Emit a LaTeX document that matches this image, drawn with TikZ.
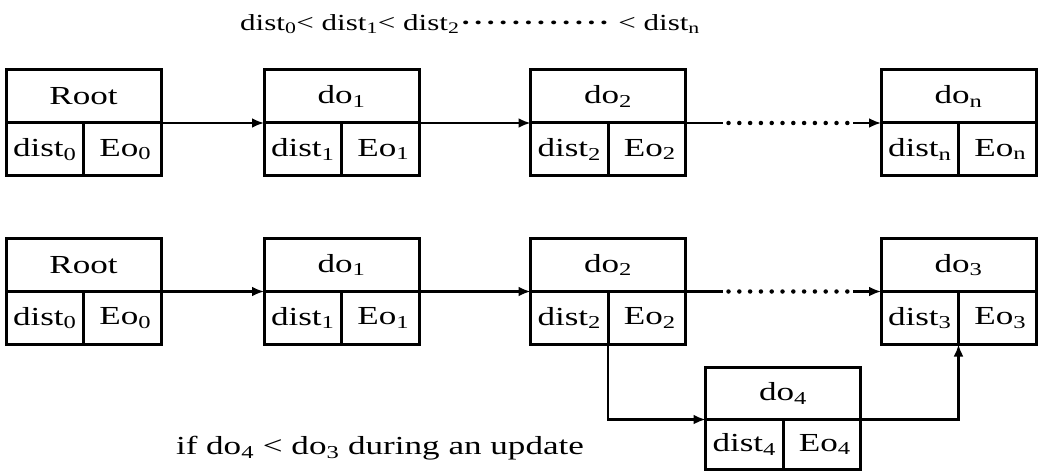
\documentclass[tikz,border=0pt]{standalone}
\usepackage{fontspec}
\setmainfont{Liberation Serif}[FakeStretch=1.35]
\usetikzlibrary{arrows.meta,calc}
\newcommand\sbs[1]{\textsubscript{#1}}
\newcommand\dd{\makebox[12.6pt]{\textbf{·}}}
\begin{document}
\begin{tikzpicture}[x=1pt,y=-1pt,
  hd/.style={draw,line width=3pt,minimum width=155pt,minimum height=53pt,inner sep=0pt,outer sep=0pt,font=\fontsize{26}{28}\selectfont},
  cl/.style={draw,line width=3pt,minimum width=77.5pt,minimum height=53pt,inner sep=0pt,outer sep=0pt,font=\fontsize{26}{28}\selectfont},
  arr/.style={line width=2.4pt,-{Latex[length=12pt,width=10pt]}},
  ln/.style={line width=2.4pt},
  dl/.style={dash pattern=on 0pt off 10.8pt,line cap=round,line width=4.5pt}]
\useasboundingbox (0,0) rectangle (1059,473);
% title
\node[font=\fontsize{23}{25}\selectfont,inner sep=0pt] (title) at (470,24) {dist\sbs{0}< dist\sbs{1}< dist\sbs{2}\dd\dd\dd\dd\dd\dd\dd\dd\dd\dd\dd\dd{} < dist\sbs{n}};
% row 1
\node[hd] (a0) at (83.5,96.5) {Root};
\node[cl,anchor=north west] (a0l) at (a0.south west) {dist\sbs{0}};
\node[cl,anchor=north east] (a0r) at (a0.south east) {\hspace{6pt}Eo\sbs{0}};
\node[hd] (a1) at (341.5,96.5) {do\sbs{1}};
\node[cl,anchor=north west] (a1l) at (a1.south west) {dist\sbs{1}};
\node[cl,anchor=north east] (a1r) at (a1.south east) {\hspace{6pt}Eo\sbs{1}};
\node[hd] (a2) at (608,96.5) {do\sbs{2}};
\node[cl,anchor=north west] (a2l) at (a2.south west) {dist\sbs{2}};
\node[cl,anchor=north east] (a2r) at (a2.south east) {\hspace{6pt}Eo\sbs{2}};
\node[hd] (an) at (958.5,96.5) {do\sbs{n}};
\node[cl,anchor=north west] (anl) at (an.south west) {dist\sbs{n}};
\node[cl,anchor=north east] (anr) at (an.south east) {\hspace{6pt}Eo\sbs{n}};
% row 2
\node[hd] (b0) at (83.5,265) {Root};
\node[cl,anchor=north west] (b0l) at (b0.south west) {dist\sbs{0}};
\node[cl,anchor=north east] (b0r) at (b0.south east) {\hspace{6pt}Eo\sbs{0}};
\node[hd] (b1) at (341.5,265) {do\sbs{1}};
\node[cl,anchor=north west] (b1l) at (b1.south west) {dist\sbs{1}};
\node[cl,anchor=north east] (b1r) at (b1.south east) {\hspace{6pt}Eo\sbs{1}};
\node[hd] (b2) at (608,265) {do\sbs{2}};
\node[cl,anchor=north west] (b2l) at (b2.south west) {dist\sbs{2}};
\node[cl,anchor=north east] (b2r) at (b2.south east) {\hspace{6pt}Eo\sbs{2}};
\node[hd] (b3) at (958.5,265) {do\sbs{3}};
\node[cl,anchor=north west] (b3l) at (b3.south west) {dist\sbs{3}};
\node[cl,anchor=north east] (b3r) at (b3.south east) {\hspace{6pt}Eo\sbs{3}};
% inserted
\node[hd,minimum height=52pt] (b4) at (783,393.5) {do\sbs{4}};
\node[cl,minimum height=50pt,anchor=north west] (b4l) at (b4.south west) {dist\sbs{4}};
\node[cl,minimum height=50pt,anchor=north east] (b4r) at (b4.south east) {\hspace{6pt}Eo\sbs{4}};
\node[font=\fontsize{26}{28}\selectfont] (note) at (380,448) {if do\sbs{4} < do\sbs{3} during an update};
% connectors row 1
\draw[arr] (a0.south east) -- (a1.south west);
\draw[arr] (a1.south east) -- (a2.south west);
\draw[ln] (a2.south east) -- ++(37,0) coordinate (p1);
\draw[arr] (an.south west) ++(-28,0) coordinate (p2) -- (an.south west);
\draw[dl] ($(p1)+(6,0)$) -- ($(p2)+(-4,0)$);
% connectors row 2
\draw[arr] (b0.south east) -- (b1.south west);
\draw[arr] (b1.south east) -- (b2.south west);
\draw[ln] (b2.south east) -- ++(37,0) coordinate (q1);
\draw[arr] (b3.south west) ++(-28,0) coordinate (q2) -- (b3.south west);
\draw[dl] ($(q1)+(6,0)$) -- ($(q2)+(-4,0)$);
\draw[arr] (b2l.south east) |- (b4.south west);
\draw[arr] (b4.south east) -| (b3l.south east);
\end{tikzpicture}
\end{document}
